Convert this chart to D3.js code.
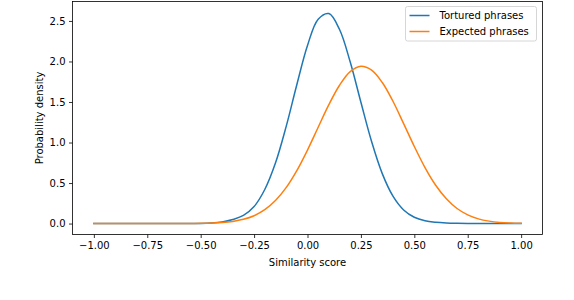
<!DOCTYPE html>
<html><head><meta charset="utf-8">
<script src="https://cdn.jsdelivr.net/npm/d3@7"></script>
<style>body{margin:0;background:#fff}svg{display:block}text{font-family:"DejaVu Sans",sans-serif}</style>
</head><body><svg id="c" width="574" height="300"></svg>
<script>
const xs = [-1.00,-0.95,-0.90,-0.85,-0.80,-0.75,-0.70,-0.65,-0.60,-0.55,-0.50,-0.45,-0.40,-0.35,-0.30,-0.25,-0.20,-0.15,-0.10,-0.05,0.00,0.05,0.10,0.15,0.20,0.25,0.30,0.35,0.40,0.45,0.50,0.55,0.60,0.65,0.70,0.75,0.80,0.85,0.90,0.95,1.00];
const tortured = [0,0,0,0,0,0,0,0,0,0.001,0.002,0.007,0.02,0.05,0.1,0.21,0.42,0.746,1.196,1.713,2.198,2.522,2.591,2.394,1.993,1.496,1.012,0.616,0.338,0.168,0.078,0.035,0.016,0.007,0.003,0.001,0,0,0,0,0];
const expected = [0,0,0,0,0,0,0,0,0.0005,0.001,0.0024,0.0056,0.0126,0.026,0.052,0.097,0.171,0.284,0.443,0.653,0.907,1.188,1.467,1.707,1.875,1.94,1.892,1.74,1.509,1.233,0.951,0.691,0.473,0.306,0.186,0.107,0.058,0.03,0.014,0.0064,0.0028];
const seriesNames = ["Tortured phrases","Expected phrases"];
const colors = ["#1f77b4","#ff7f0e"];
const xTicks = [-1.00,-0.75,-0.50,-0.25,0.00,0.25,0.50,0.75,1.00];
const yTicks = [0.0,0.5,1.0,1.5,2.0,2.5];

const svg = d3.select("#c");
const L=72.5, R=542.5, T=1.5, B=234.5;
const x = d3.scaleLinear().domain([-1.1,1.1]).range([L,R]);
const y = d3.scaleLinear().domain([-0.135,2.74]).range([B,T]);

const fmt = v => (v<0?"\u2212":"")+Math.abs(v).toFixed(2);
const xa = svg.append("g").attr("transform",`translate(0,${B})`)
  .call(d3.axisBottom(x).tickValues(xTicks).tickFormat(fmt).tickSize(3.5).tickPadding(3.5));
const ya = svg.append("g").attr("transform",`translate(${L},0)`)
  .call(d3.axisLeft(y).tickValues(yTicks).tickFormat(d3.format(".1f")).tickSize(3.5).tickPadding(3.5));
[xa,ya].forEach(a=>{a.select(".domain").remove();a.selectAll("line").attr("stroke","#000").attr("stroke-width",0.8);a.selectAll("text").attr("font-size",10).attr("fill","#000");});

const line = d3.line().x((d,i)=>x(xs[i])).y(d=>y(d)).curve(d3.curveCatmullRom.alpha(0.5));
[tortured,expected].forEach((s,k)=>{
  svg.append("path").attr("d",line(s)).attr("fill","none").attr("stroke",colors[k]).attr("stroke-width",1.5).attr("stroke-linejoin","round").attr("stroke-linecap","square");
});

svg.append("rect").attr("x",L).attr("y",T).attr("width",R-L).attr("height",B-T).attr("fill","none").attr("stroke","#000").attr("stroke-width",0.8);

svg.append("text").attr("x",(L+R)/2).attr("y",266).attr("text-anchor","middle").attr("font-size",10).text("Similarity score");
svg.append("text").attr("transform",`translate(43,${(T+B)/2}) rotate(-90)`).attr("text-anchor","middle").attr("font-size",10).text("Probability density");

const lg = svg.append("g");
lg.append("rect").attr("x",405.5).attr("y",6.5).attr("width",131).attr("height",34.5).attr("rx",2).attr("fill","#fff").attr("fill-opacity",0.8).attr("stroke","#cccccc").attr("stroke-width",0.8);
seriesNames.forEach((n,k)=>{
  const yy = 15.5 + k*16;
  lg.append("line").attr("x1",409.5).attr("x2",429.5).attr("y1",yy).attr("y2",yy).attr("stroke",colors[k]).attr("stroke-width",1.5);
  lg.append("text").attr("x",439.5).attr("y",yy+3.6).attr("font-size",10).text(n);
});
</script></body></html>
